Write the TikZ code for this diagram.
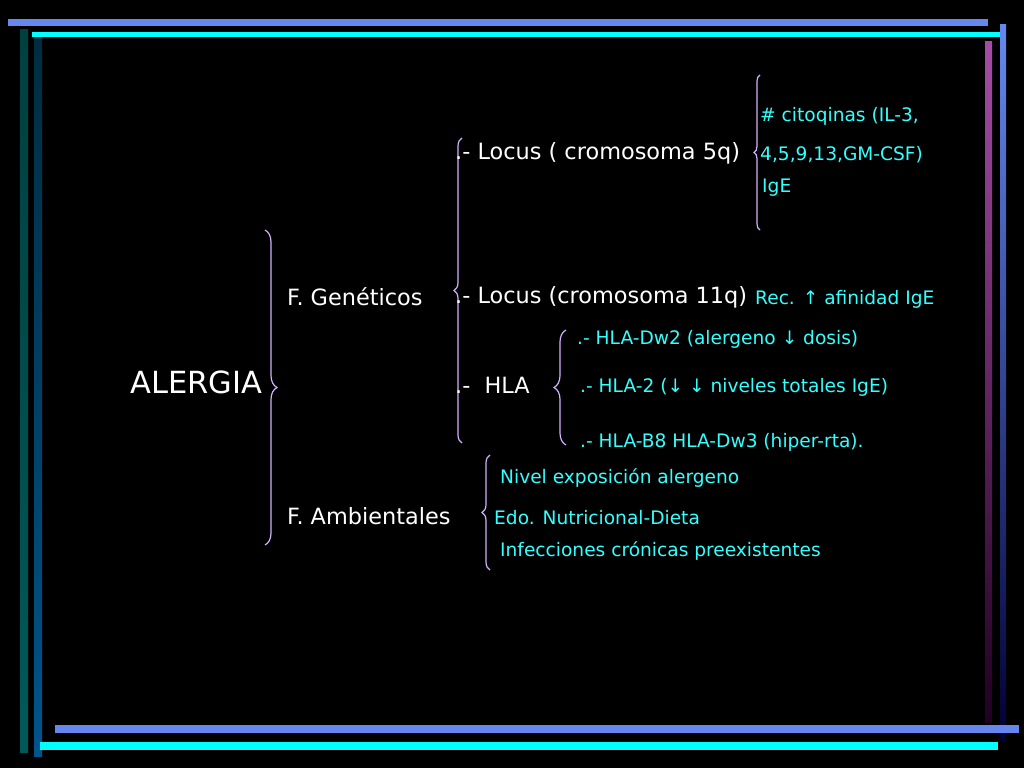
\documentclass[tikz,border=0pt]{standalone}
\usepackage{fontspec}
\setmainfont{DejaVu Sans}
\usetikzlibrary{decorations.pathreplacing}
\definecolor{bbar}{HTML}{6688EE}
\definecolor{cbar}{HTML}{00FFFF}
\definecolor{ctext}{HTML}{33FFFF}
\definecolor{brc}{HTML}{D4B0FF}
\tikzset{
  wt/.style={anchor=west,text=white,font=\fontsize{22.4}{24}\selectfont,inner sep=0pt},
  big/.style={anchor=west,text=white,font=\fontsize{30.5}{32}\selectfont,inner sep=0pt},
  ct/.style={anchor=west,text=ctext,font=\fontsize{18.6}{21}\selectfont,inner sep=0pt},
  br/.style={draw=brc,line width=1.2pt,decorate,decoration={brace,amplitude=#1}},
  br/.default=10pt
}
\begin{document}
\begin{tikzpicture}[x=1pt,y=-1pt]
\fill[black] (0,0) rectangle (1024,768);
\useasboundingbox (0,0) rectangle (1024,768);
% frame
\shade[top color=cyan!25!black, bottom color=cyan!35!black] (20,30) rectangle (28,752);
\shade[top color=blue!30!cyan!25!black, bottom color=blue!40!cyan!55!black] (34,38) rectangle (42,756);
\shade[top color=violet!70!white, bottom color=violet!25!black] (985,42) rectangle (992,722);
\shade[top color=bbar, bottom color=blue!20!black] (1000,25) rectangle (1006,740);
\fill[bbar] (8,19) rectangle (988,26);
\fill[cbar] (32,32) rectangle (1000,37);
\fill[bbar] (55,725) rectangle (1019,733);
\fill[cbar] (40,742) rectangle (998,750);
% braces
\draw[br=12pt] (265,230) -- (265,545);
\draw[br=8pt] (462,443) -- (462,138);
\draw[br=6pt] (760,230) -- (760,75);
\draw[br=12pt] (566,445) -- (566,330);
\draw[br=8pt] (490,570) -- (490,455);
% texts
\node[big] (alergia) at (130,382) {ALERGIA};
\node[wt] (gen) at (287,297) {F. Genéticos};
\node[wt] (amb) at (287,516) {F. Ambientales};
\node[wt] (l5) at (455,153) {.- Locus ( cromosoma 5q)};
\node[wt] (l11) at (455,297) {.- Locus (cromosoma 11q)};
\node[wt] (hla) at (455,385) {.-~~HLA};
\node[ct] (cit) at (760,116) {\# citoqinas (IL-3,};
\node[ct] (il) at (760,155) {4,5,9,13,GM-CSF)};
\node[ct] (ige) at (762,188) {IgE};
\node[ct] (rec) at (755,299) {Rec. ↑ afinidad IgE};
\node[ct] (dw2) at (577,339) {.- HLA-Dw2 (alergeno ↓ dosis)};
\node[ct] (hla2) at (580,387) {.- HLA-2 (↓ ↓ niveles totales IgE)};
\node[ct] (b8) at (580,442) {.- HLA-B8 HLA-Dw3 (hiper-rta).};
\node[ct] (niv) at (500,478) {Nivel exposición alergeno};
\node[ct] (edo) at (494,518) {Edo. Nutricional-Dieta};
\node[ct] (inf) at (500,551) {Infecciones crónicas preexistentes};
\end{tikzpicture}
\end{document}
